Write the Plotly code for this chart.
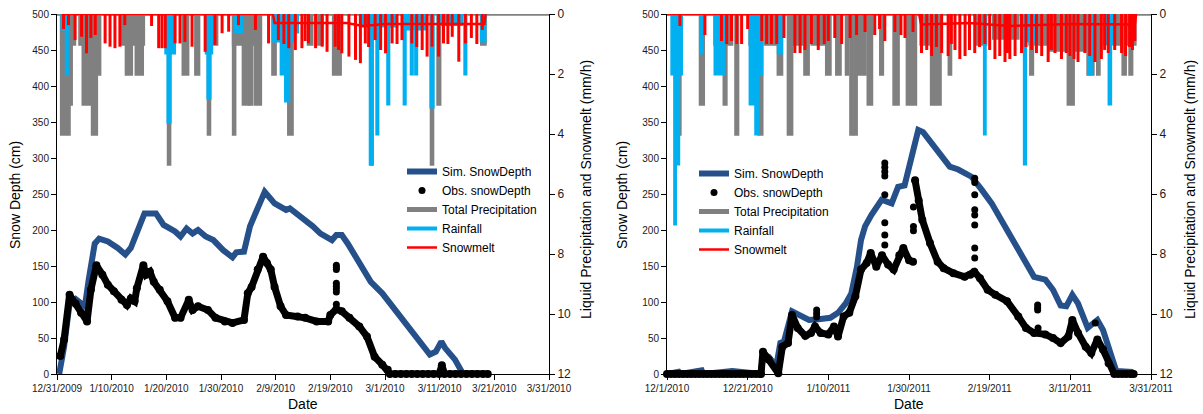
import plotly.graph_objects as go

# ---------------- LEFT PANEL (day 0 = 12/31/2009) ----------------
L_xtick_days = [0, 10, 20, 30, 40, 50, 60, 70, 80, 90]
L_xtick_labels = ["12/31/2009", "1/10/2010", "1/20/2010", "1/30/2010", "2/9/2010",
                  "2/19/2010", "3/1/2010", "3/11/2010", "3/21/2010", "3/31/2010"]
L_span = [0, 90]

L_sim_day = [0.4, 1.3, 2.3, 3.4, 4.4, 5.1, 5.8, 6.9, 7.7, 9.3, 11.1, 12.5, 13.5, 14.6, 15.6, 16.0,
             18.1, 19.5, 21.6, 22.6, 23.7, 24.8, 25.8, 27.2, 28.6, 30.4, 32.1, 32.8, 34.2, 35.3,
             36.3, 38.0, 39.8, 41.9, 42.6, 44.7, 46.8, 48.2, 50.3, 51.1, 52.1, 53.2, 55.3, 57.4,
             59.5, 62.3, 65.1, 67.2, 68.2, 69.3, 70.3, 71.0, 72.8, 74.2, 78.8]
L_sim_cm = [0, 38, 98, 104, 98, 94, 131, 181, 188, 184, 175, 166, 175, 195, 218, 223,
            223, 207, 198, 191, 202, 195, 200, 191, 186, 172, 162, 169, 170, 205,
            223, 253, 237, 228, 230, 218, 205, 195, 186, 193, 193, 181, 154, 128,
            112, 85, 57, 38, 27, 31, 45, 36, 20, 1, 0]

L_obs_day = [0.6, 1.3, 2.3, 3.4, 4.4, 5.5, 6.2, 7.2, 8.3, 9.3, 10.4, 11.8, 12.8, 13.5, 14.2,
             14.6, 15.8, 16.3, 17.0, 17.7, 18.8, 20.2, 21.6, 22.6, 24.1, 24.8, 25.8, 27.6,
             29.0, 30.7, 32.1, 34.2, 34.9, 35.6, 36.7, 37.7, 38.4, 39.1, 39.8, 40.9, 41.9,
             44.0, 45.4, 47.5, 49.6, 50.0, 51.1, 52.1, 53.5, 55.3, 56.7, 58.1, 59.5, 60.5,
             60.9, 61.9, 62.9, 63.9, 64.9, 65.9, 66.9, 67.9, 68.9, 69.9, 70.4, 70.9, 71.9,
             72.9, 73.9, 74.9, 75.9, 76.9, 77.9, 78.8]
L_obs_cm = [25, 48, 110, 98, 85, 73, 117, 151, 138, 124, 115, 103, 96, 105, 101,
            119, 151, 138, 142, 128, 117, 101, 78, 78, 103, 89, 94, 89,
            78, 73, 71, 75, 112, 121, 145, 163, 154, 145, 121, 94, 82,
            80, 78, 73, 73, 82, 90, 87, 78, 66, 52, 24, 13, 6,
            0, 0, 0, 0, 0, 0, 0, 0, 0, 0, 12, 0, 0,
            0, 0, 0, 0, 0, 0, 0]
L_obs_out_day = [51.1, 51.1, 51.1, 51.1, 51.1, 51.1, 51.1, 51.1]
L_obs_out_cm = [151, 148, 145, 126, 122, 118, 114, 97]

L_tot_start = [0.85, 0.85, 2.2, 4.2, 4.8, 6.5, 7.2, 11.8, 12.7, 14.5, 19.9, 20.4, 23.1, 25.4, 27.7,
               28.8, 32.3, 32.3, 34.1, 35.3, 36.3, 39.5, 42.4, 46.0, 47.9, 50.6, 57.4, 68.5, 69.7, 77.7]
L_tot_end = [2.2, 3.2, 2.6, 4.8, 6.5, 7.2, 7.8, 15.8, 13.6, 15.6, 21.2, 20.6, 23.9, 25.9, 27.9,
             29.2, 37.2, 32.5, 35.0, 35.6, 37.2, 39.9, 43.0, 46.6, 48.5, 51.8, 57.6, 68.7, 70.0, 78.3]
L_tot_mm = [4, 1, 3, 1, 3, 4, 2, 1, 2, 2, 1, 5, 2, 2, 4,
            1, 1, 4, 3, 3, 3, 2, 4, 1, 1, 2, 5, 5, 3, 1]

L_rain_start = [0.9, 1.7, 19.9, 20.3, 27.3, 27.6, 32.6, 39.6, 41.0, 41.8, 43.0, 55.5, 57.3, 58.5,
                59.0, 60.5, 63.5, 63.8, 64.8, 65.6, 68.4, 70.0, 74.6, 77.6]
L_rain_end = [1.6, 1.9, 21.5, 20.7, 28.3, 28.0, 33.8, 43.3, 42.4, 42.4, 44.0, 57.0, 57.7, 58.7,
              62.0, 60.7, 63.7, 67.5, 65.0, 65.8, 68.8, 74.0, 74.8, 78.3]
L_rain_mm = [0.5, 2, 1.3, 3.6, 1.3, 2.8, 0.6, 0.9, 2, 2.9, 0.6, 0.4, 5.0, 4,
             0.4, 3, 3, 0.5, 2, 2, 3.1, 0.35, 2, 0.9]

L_melt_day = [1.2, 2.1, 3.3, 4.5, 5.4, 6.2, 7.0, 8.8, 9.7, 10.6, 11.5, 12.4, 17.3, 18.6, 19.2,
              19.8, 21.6, 22.5, 23.4, 24.7, 27.1, 28.9, 30.2, 31.4, 33.2, 36.3, 38.7, 40.5, 41.5,
              42.4, 43.6, 44.8, 45.4, 46.0, 47.3, 48.5, 49.4, 50.9, 51.5, 52.1, 53.4, 54.6, 55.5,
              56.4, 57.0, 58.2, 59.2, 60.1, 61.3, 62.2, 63.1, 64.9, 65.8, 66.8, 67.7, 68.6, 69.8,
              70.7, 71.5, 72.3, 73.5, 74.7, 75.8, 76.8, 77.8]
L_melt_mm = [0.5, 0.37, 0.87, 0.76, 1.31, 0.8, 0.7, 0.98, 1.09, 1.14, 1.09, 0.37, 0.4, 1.14, 1.14,
             1.14, 0.98, 0.98, 0.93, 1.09, 1.26, 1.03, 0.64, 0.59, 0.37, 0.53, 0.98, 0.87, 1.0,
             1.14, 1.2, 1.14, 0.9, 0.98, 1.14, 1.09, 1.26, 1.09, 1.2, 1.31, 1.42, 1.53, 1.64,
             0.98, 1.1, 0.87, 1.2, 1.31, 0.98, 1.0, 0.87, 0.98, 1.1, 1.2, 1.42, 1.09, 1.42,
             0.98, 1.0, 0.76, 1.59, 0.98, 0.8, 1.0, 0.53]
L_melt_base_day = [0.85, 39.5, 39.8, 53.0, 56.0, 60.0, 78.2, 78.4]
L_melt_base_mm = [0, 0, 0.3, 0.3, 0.4, 0.33, 0.33, 0]

# ---------------- RIGHT PANEL (day 0 = 12/1/2010) ----------------
R_xtick_days = [0, 20, 40, 60, 80, 100, 120]
R_xtick_labels = ["12/1/2010", "12/21/2010", "1/10/2011", "1/30/2011", "2/19/2011",
                  "3/11/2011", "3/31/2011"]
R_span = [0, 120]

R_sim_day = [0, 2.9, 3.3, 8.6, 9.0, 14.3, 16.2, 23.3, 23.8, 25.2, 27.1, 28.1, 29.0, 31.0, 32.9,
             35.2, 37.6, 40.5, 42.4, 44.3, 45.7, 47.1, 48.1, 49.1, 50.7, 53.2, 55.7, 57.3, 58.9,
             60.6, 62.3, 63.5, 65.6, 68.1, 70.1, 72.2, 75.5, 78.0, 80.5, 84.3, 88.1, 91.0, 93.8,
             95.7, 97.6, 99.0, 100.5, 101.9, 104.3, 106.7, 108.1, 110.5, 111.4, 115.2, 115.7]
R_sim_cm = [0, 3, 0, 5, 0, 4, 4, 0, 27, 24, 11, 43, 45, 87, 82,
            75, 76, 78, 85, 98, 112, 149, 186, 205, 221, 242, 237, 260, 262,
            297, 339, 336, 320, 302, 288, 284, 274, 256, 237, 200, 161, 135, 131,
            117, 95, 94, 110, 98, 64, 75, 61, 20, 4, 3, 0]

R_obs_day = [0, 1, 2, 3, 4, 5, 6, 7, 8, 9, 10, 11, 12, 13, 14, 15, 16, 17, 18, 19, 20, 21, 22, 23,
             23.3, 23.8, 25.2, 27.6, 28.6, 30.0, 31.0, 32.4, 34.3, 35.7, 36.7, 38.1, 40.0, 41.4,
             42.4, 43.8, 45.2, 46.7, 48.1, 49.5, 50.5, 51.9, 53.3, 54.8, 56.2, 57.6, 58.6, 60.0,
             61.0, None, 61.5, 62.4, 63.3, 65.2, 67.1, 68.6, 71.0, 73.8, 75.2, 76.2, 77.6, 79.5,
             81.4, 84.3, 87.1, 89.0, 91.0, 93.8, 95.7, 97.6, 99.5, 100.5, 101.9, 103.8, 105.2,
             106.7, 108.1, 109.5, 110.9, 111.9, 112.9, 113.9, 114.9, 115.7]
R_obs_cm = [0, 0, 0, 0, 0, 0, 0, 0, 0, 0, 0, 0, 0, 0, 0, 0, 0, 0, 0, 0, 0, 0, 0, 0,
            0, 31, 20, 1, 38, 43, 82, 64, 53, 57, 66, 57, 55, 66,
            52, 80, 85, 108, 145, 154, 168, 149, 165, 152, 145, 165, 175, 158,
            156, None, 269, 241, 214, 182, 156, 147, 140, 135, 138, 142, 133, 117,
            110, 101, 80, 64, 57, 55, 50, 43, 52, 75, 57, 38, 29,
            48, 34, 15, 0, 0, 0, 0, 0, 0]
R_obs_out_day = [37.1, 37.1, 37.1, 54.0, 54.0, 54.0, 54.0, 54.0, 54.0, 54.0, 54.0,
                 61.1, 61.1, 61.1, 76.3, 76.3, 76.3, 76.3, 76.3, 76.3, 76.3, 76.3,
                 91.9, 91.9, 91.9, 92.0, 106.2]
R_obs_out_cm = [89, 84, 79, 293, 287, 281, 275, 249, 210, 193, 179,
                232, 205, 199, 272, 266, 249, 228, 221, 207, 175, 161,
                96, 92, 89, 64, 71]

R_tot_start = [2.4, 8.3, 11.9, 14.2, 17.1, 20.6, 22.9, 24.5, 27.6, 30.1, 31.0, 34.2, 36.0, 39.6,
               42.1, 44.5, 45.6, 46.6, 47.4, 49.9, 53.0, 56.3, 59.6, 63.0, 65.6, 70.0, 77.0, 81.0,
               90.2, 90.0, 95.0, 99.5, 104.4, 106.8, 111.0, 113.1, 114.8]
R_tot_end = [3.2, 9.0, 16.0, 14.6, 17.5, 23.5, 23.5, 27.0, 28.4, 30.9, 34.0, 35.0, 40.0, 40.4,
             42.9, 44.8, 45.9, 46.9, 49.1, 50.7, 53.4, 57.3, 61.6, 65.0, 67.7, 70.3, 79.0, 87.0,
             90.6, 94.0, 104.0, 100.7, 105.6, 107.1, 116.0, 113.6, 115.2]
R_tot_mm = [4, 3, 1, 3, 4, 1, 4, 1, 2, 4, 1, 2, 1, 2,
            2, 2, 4, 4, 2, 3, 2, 3, 3, 1, 3, 2, 1, 0.8,
            2, 1, 1.2, 3, 2, 2, 1, 2, 2]

R_rain_start = [1.2, 1.9, 2.7, 8.3, 11.9, 20.6, 22.0, 22.6, 27.6, 78.7, 88.0, 88.6, 104.5, 108.5, 109.6]
R_rain_end = [3.6, 2.1, 2.9, 8.7, 14.0, 21.8, 22.5, 23.5, 28.4, 78.9, 91.0, 88.9, 105.2, 110.5, 110.0]
R_rain_mm = [2, 7, 5, 1.3, 2, 3, 4, 2, 1.3, 4, 0.9, 5, 2, 1, 3]

R_melt_day = [3.2, 9.4, 13.5, 14.8, 16.0, 17.3, 18.5, 20.0, 23.5, 24.7, 25.9, 27.2, 29.0, 31.7,
              33.0, 34.2, 35.8, 37.5, 39.0, 40.0, 41.6, 43.3, 45.4, 47.0, 49.1, 51.5, 52.7, 54.0,
              56.5, 58.0, 59.0, 61.0, 63.1, 64.4, 65.6, 66.8, 68.1, 69.7, 70.5, 71.4, 72.6, 73.9,
              75.0, 76.3, 77.5, 78.8, 80.0, 81.3, 82.5, 83.8, 84.4, 85.0, 86.3, 87.9, 89.0, 90.4,
              91.6, 92.9, 94.5, 95.3, 96.2, 97.8, 99.0, 99.9, 100.9, 101.9, 103.6, 104.8, 106.1,
              107.7, 108.5, 109.4, 111.0, 112.7, 113.7, 114.7, 115.4, 116.0]
R_melt_mm = [0.4, 0.7, 0.9, 1.0, 0.9, 1.0, 1.0, 0.5, 0.9, 1.0, 1.0, 1.0, 0.8, 1.3,
             1.3, 1.2, 1.0, 1.2, 1.0, 0.9, 0.8, 1.0, 0.8, 0.7, 0.6, 0.7, 0.5, 0.9,
             0.6, 0.7, 0.8, 0.6, 1.3, 1.2, 1.4, 1.1, 1.3, 1.4, 1.0, 1.2, 1.5, 1.4,
             1.2, 1.3, 1.1, 1.0, 1.2, 1.5, 1.4, 1.6, 1.3, 1.5, 1.4, 1.3, 1.1, 1.2,
             1.3, 1.4, 1.6, 1.2, 1.3, 1.5, 1.3, 1.4, 1.5, 1.6, 1.3, 1.4, 1.6,
             1.5, 1.2, 1.3, 1.2, 1.3, 1.4, 1.1, 1.2, 0.9]
R_melt_base_day = [0, 62.5, 63.0, 75.0, 85.0, 100.0, 116.0, 116.3]
R_melt_base_mm = [0, 0, 0.35, 0.3, 0.4, 0.33, 0.35, 0]

# ---------------- styling ----------------
W, H = 1203, 414
FONT = "Liberation Sans, Arial, sans-serif"
C_SIM = "#25508A"
C_TOT = "#808080"
C_RAIN = "#00B0F0"
C_MELT = "#FF0000"


def blocks(start, end, val):
    xs, ys = [], []
    for s, e, v in zip(start, end, val):
        xs += [s, s, e, e, None]
        ys += [0, v, v, 0, None]
    return xs, ys


def spikes(day, val):
    xs, ys = [], []
    for d, v in zip(day, val):
        xs += [d, d, None]
        ys += [0, v, None]
    return xs, ys


fig = go.Figure()


def add_panel(xa, ysnow, ypr, leg, span, sim_d, sim_v, obs_d, obs_v, out_d, out_v,
              tot_s, tot_e, tot_v, rain_s, rain_e, rain_v, melt_d, melt_v, mb_d, mb_v):
    tx, ty = blocks(tot_s, tot_e, tot_v)
    tx += [span[0], span[1]]
    ty += [0, 0]
    fig.add_trace(go.Scatter(x=tx, y=ty, xaxis=xa, yaxis=ypr, mode="lines", fill="toself",
                             fillcolor=C_TOT, line=dict(color=C_TOT, width=3.5),
                             showlegend=False, hoverinfo="skip"))
    rx, ry = blocks(rain_s, rain_e, rain_v)
    fig.add_trace(go.Scatter(x=rx, y=ry, xaxis=xa, yaxis=ypr, mode="lines", fill="toself",
                             fillcolor=C_RAIN, line=dict(color=C_RAIN, width=3),
                             showlegend=False, hoverinfo="skip"))
    mx, my = spikes(melt_d, melt_v)
    fig.add_trace(go.Scatter(x=mx, y=my, xaxis=xa, yaxis=ypr, mode="lines",
                             line=dict(color=C_MELT, width=3),
                             showlegend=False, hoverinfo="skip"))
    fig.add_trace(go.Scatter(x=mb_d, y=mb_v, xaxis=xa, yaxis=ypr, mode="lines",
                             line=dict(color=C_MELT, width=2.5),
                             showlegend=False, hoverinfo="skip"))
    fig.add_trace(go.Scatter(x=sim_d, y=sim_v, xaxis=xa, yaxis=ysnow, mode="lines",
                             line=dict(color=C_SIM, width=6), name="Sim. SnowDepth",
                             legend=leg, legendrank=1))
    fig.add_trace(go.Scatter(x=obs_d, y=obs_v, xaxis=xa, yaxis=ysnow, mode="lines+markers",
                             line=dict(color="black", width=7),
                             marker=dict(color="black", size=8), cliponaxis=False,
                             showlegend=False))
    fig.add_trace(go.Scatter(x=out_d, y=out_v, xaxis=xa, yaxis=ysnow, mode="markers",
                             marker=dict(color="black", size=7), name="Obs. snowDepth",
                             legend=leg, legendrank=2))
    for nm, col, wd, rk in [("Total Precipitation", C_TOT, 5, 3),
                            ("Rainfall", C_RAIN, 4, 4),
                            ("Snowmelt", C_MELT, 2.5, 5)]:
        fig.add_trace(go.Scatter(x=[None], y=[None], xaxis=xa, yaxis=ypr, mode="lines",
                                 line=dict(color=col, width=wd), name=nm,
                                 legend=leg, legendrank=rk))


add_panel("x", "y", "y2", "legend", L_span, L_sim_day, L_sim_cm, L_obs_day, L_obs_cm,
          L_obs_out_day, L_obs_out_cm, L_tot_start, L_tot_end, L_tot_mm,
          L_rain_start, L_rain_end, L_rain_mm, L_melt_day, L_melt_mm,
          L_melt_base_day, L_melt_base_mm)
add_panel("x2", "y3", "y4", "legend2", R_span, R_sim_day, R_sim_cm, R_obs_day, R_obs_cm,
          R_obs_out_day, R_obs_out_cm, R_tot_start, R_tot_end, R_tot_mm,
          R_rain_start, R_rain_end, R_rain_mm, R_melt_day, R_melt_mm,
          R_melt_base_day, R_melt_base_mm)

ydom = [1 - 374 / H, 1 - 14 / H]
tickc = "#1a1a1a"


def xax(dom, ya, vals, labels, span):
    return dict(domain=dom, anchor=ya, range=span, tickmode="array", tickvals=vals,
                ticktext=labels, ticks="outside", ticklen=5, tickcolor="black",
                showline=True, linecolor="black", linewidth=1, showgrid=False,
                zeroline=False, tickfont=dict(size=10, color=tickc), automargin=False)


def ysnow(xa):
    return dict(domain=ydom, anchor=xa, range=[0, 500], dtick=50, ticks="outside",
                ticklen=5, tickcolor="black", showline=True, linecolor="black",
                linewidth=1, showgrid=False, zeroline=False,
                tickfont=dict(size=10, color=tickc), automargin=False)


def ypr(xa, ov):
    return dict(overlaying=ov, side="right", anchor=xa, range=[12, 0], dtick=2,
                ticks="outside", ticklen=5, tickcolor="black", showline=True,
                linecolor="black", linewidth=1, showgrid=False, zeroline=False,
                tickfont=dict(size=12, color=tickc), automargin=False)


fig.update_layout(
    width=W, height=H, margin=dict(l=0, r=0, t=0, b=0),
    paper_bgcolor="white", plot_bgcolor="white",
    font=dict(family=FONT, color="black"),
    xaxis=xax([57 / W, 549 / W], "y", L_xtick_days, L_xtick_labels, L_span),
    xaxis2=xax([667 / W, 1151 / W], "y3", R_xtick_days, R_xtick_labels, R_span),
    yaxis=ysnow("x"), yaxis2=ypr("x", "y"),
    yaxis3=ysnow("x2"), yaxis4=ypr("x2", "y3"),
    legend=dict(x=402 / W, y=1 - 157 / H, xanchor="left", yanchor="top",
                bgcolor="rgba(0,0,0,0)", font=dict(size=12, color="black"),
                itemclick=False, tracegroupgap=0),
    legend2=dict(x=694 / W, y=1 - 159 / H, xanchor="left", yanchor="top",
                 bgcolor="rgba(0,0,0,0)", font=dict(size=12, color="black"),
                 itemclick=False, tracegroupgap=0),
    showlegend=True,
)

annots = [
    ("Snow Depth (cm)", 15, 195, -90),
    ("Liquid Precipitation and Snowmelt (mm/h)", 586, 190, -90),
    ("Date", 303, 404, 0),
    ("Snow Depth (cm)", 622, 195, -90),
    ("Liquid Precipitation and Snowmelt (mm/h)", 1190, 190, -90),
    ("Date", 909, 404, 0),
]
for txt, px, py, ang in annots:
    fig.add_annotation(text=txt, x=px / W, y=1 - py / H, xref="paper", yref="paper",
                       showarrow=False, textangle=ang, xanchor="center", yanchor="middle",
                       font=dict(size=14, color="black", family=FONT))

fig.write_html("out.html")
